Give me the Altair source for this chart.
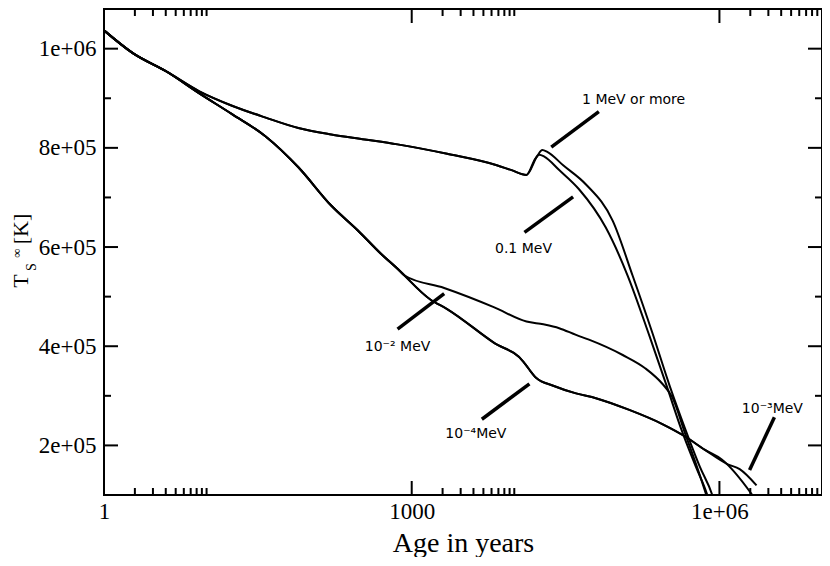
import altair as alt
import pandas as pd

# ---------------- data ----------------
# part shared by every model at early ages
age_start = [1, 1.91, 4.06]
t_start = [1037000, 991000, 954000]

# upper pair (1 MeV or more / 0.1 MeV) before the bump
age_upper = [8.5, 17.7, 37.7, 78.5, 164, 349, 728, 2214, 6745, 9419, 13150]
t_upper = [914000, 885000, 861000, 840000, 827000, 817000, 807000, 788000, 765000, 755000, 745500]

age_1mev = [16800, 18770, 20980, 29960, 50000, 91200, 142300, 222200, 331700, 463300, 646800, 844700, 944000]
t_1mev = [784150, 795750, 791880, 764830, 726180, 652750, 542600, 426660, 316510, 233420, 156120, 102010, 69160]

age_01mev = [16060, 17550, 19620, 27400, 42760, 78000, 127300, 207800, 310100, 423600, 591600, 755900, 844700]
t_01mev = [778350, 786080, 782220, 755170, 716520, 639220, 542600, 420860, 316510, 233420, 156120, 102010, 69160]

# lower trio (1e-2, 1e-3, 1e-4 MeV) before the split
age_lower = [8.5, 17.7, 37.7, 78.5, 164, 298.6, 498, 728]
t_lower = [909760, 868000, 823000, 760900, 683700, 633400, 587000, 556100]

age_1em2 = [850, 2072, 6305, 13150, 19190, 27400, 40000, 53450, 114000, 190100, 277500, 346700, 463300, 605300, 739100, 826500]
t_1em2 = [542600, 517500, 478900, 449900, 444100, 436400, 422800, 413200, 382300, 355200, 324300, 297300, 223800, 156100, 102000, 69200]

age_low_tail = [1518, 2214, 6305, 12290, 13740, 16410, 23980, 40000, 62500, 130300, 277500, 463300, 722800]
t_low_tail = [494290, 474970, 407330, 368690, 355160, 335840, 320380, 304920, 295260, 272070, 243080, 217960, 190910]

age_1em4 = [1055000, 2058000, 2460000]
t_1em4 = [171580, 102010, 78820]

age_1em3 = [1206000, 1575000, 2300000]
t_1em3 = [161910, 152250, 119410]

# annotations
ann_text = ["1 MeV or more", "0.1 MeV", "10\u207b\u00b2 MeV", "10\u207b\u2074MeV", "10\u207b\u00b3MeV"]
ann_x = [145600, 12290, 728, 4223, 3285000]
ann_y = [896230, 596700, 397670, 223800, 274000]
ptr_x1 = [22940, 12570, 728, 4829, 1968000]
ptr_y1 = [801550, 629560, 434390, 252740, 150320]
ptr_x2 = [66760, 37430, 2072, 14050, 3435000]
ptr_y2 = [873040, 701060, 505890, 324240, 256610]

# axis ticks
x_major = [1, 1000, 1000000]
x_minor = [2, 3, 4, 5, 6, 7, 8, 9, 10,
           2000, 3000, 4000, 5000, 6000, 7000, 8000, 9000, 10000,
           2e6, 3e6, 4e6, 5e6, 6e6, 7e6, 8e6, 9e6]
x_labels = ["1", "1000", "1e+06"]
y_major = [200000, 400000, 600000, 800000, 1000000]
y_minor = [300000, 500000, 700000, 900000]
y_labels = ["2e+05", "4e+05", "6e+05", "8e+05", "1e+06"]

# ---------------- build tables ----------------
models = {
    "1 MeV or more": (age_start + age_upper + age_1mev, t_start + t_upper + t_1mev),
    "0.1 MeV": (age_start + age_upper + age_01mev, t_start + t_upper + t_01mev),
    "1e-2 MeV": (age_start + age_lower + age_1em2, t_start + t_lower + t_1em2),
    "1e-4 MeV": (age_start + age_lower + age_low_tail + age_1em4, t_start + t_lower + t_low_tail + t_1em4),
    "1e-3 MeV": (age_start + age_lower + age_low_tail + age_1em3, t_start + t_lower + t_low_tail + t_1em3),
}
rows = []
for name, (ages, temps) in models.items():
    for i, (a, t) in enumerate(zip(ages, temps)):
        rows.append({"model": name, "age": a, "T": t, "i": i})
curves = pd.DataFrame(rows)

ann = pd.DataFrame({"label": ann_text, "x": ann_x, "y": ann_y})
ptr = pd.DataFrame({"x1": ptr_x1, "y1": ptr_y1, "x2": ptr_x2, "y2": ptr_y2})

W, H = 718, 486
MAJ, MIN = 14, 7
xs = alt.Scale(type="log", domain=[1, 1e7])
ys = alt.Scale(domain=[100000, 1080000])
SERIF = "Liberation Serif"

x_expr = " : ".join(f"datum.value == {v} ? '{t}'" for v, t in zip(x_major, x_labels)) + " : ''"
y_expr = " : ".join(f"datum.value == {v} ? '{t}'" for v, t in zip(y_major, y_labels)) + " : ''"

x_axis = alt.Axis(
    values=x_major, labelExpr=x_expr, ticks=False, tickSize=0, domain=False, grid=False,
    labelFont=SERIF, labelFontSize=23, labelColor="black", labelPadding=5,
    labelFlush=False, labelOverlap=False,
    title="Age in years", titleFont=SERIF, titleFontSize=28, titleFontWeight="normal",
    titleColor="black", titleBaseline="alphabetic", titleY=56)
y_axis = alt.Axis(
    values=y_major, labelExpr=y_expr, ticks=False, tickSize=0, domain=False, grid=False,
    labelFont=SERIF, labelFontSize=23, labelColor="black", labelPadding=8,
    labelFlush=False, labelOverlap=False, title=None)

lines = alt.Chart(curves).mark_line(color="black", strokeWidth=2, clip=True,
                                    interpolate="monotone").encode(
    x=alt.X("age:Q", scale=xs, axis=x_axis),
    y=alt.Y("T:Q", scale=ys, axis=y_axis),
    detail="model:N",
    order="i:Q",
)

layers = [lines]


def xtick(vals, length, top):
    df = pd.DataFrame({"age": vals})
    if top:
        y0, y1 = 0, length
    else:
        y0, y1 = H, H - length
    return alt.Chart(df).mark_rule(color="black", strokeWidth=2).encode(
        x=alt.X("age:Q", scale=xs, axis=x_axis), y=alt.value(y0), y2=alt.value(y1))


def ytick(vals, length, right):
    df = pd.DataFrame({"T": vals})
    if right:
        x0, x1 = W, W - length
    else:
        x0, x1 = 0, length
    return alt.Chart(df).mark_rule(color="black", strokeWidth=2).encode(
        y=alt.Y("T:Q", scale=ys, axis=y_axis), x=alt.value(x0), x2=alt.value(x1))


for top in (False, True):
    layers.append(xtick(x_major, MAJ, top))
    layers.append(xtick(x_minor, MIN, top))
for right in (False, True):
    layers.append(ytick(y_major, MAJ, right))
    layers.append(ytick(y_minor, MIN, right))

pointers = alt.Chart(ptr).mark_rule(color="black", strokeWidth=3.5).encode(
    x=alt.X("x1:Q", scale=xs, axis=x_axis), x2="x2:Q",
    y=alt.Y("y1:Q", scale=ys, axis=y_axis), y2="y2:Q")
labels = alt.Chart(ann).mark_text(font="DejaVu Sans", fontSize=14, color="black",
                                  align="center", baseline="middle").encode(
    x=alt.X("x:Q", scale=xs, axis=x_axis), y=alt.Y("y:Q", scale=ys, axis=y_axis), text="label:N")
layers += [pointers, labels]

# y-axis title: T_S^inf [K] built from pieces
ytitle = pd.DataFrame({
    "t": ["T", "S", "\u221e", "[K]"],
    "px": [-83, -72, -87, -83],
    "py": [272, 258, 244, 220],
    "fs": [22, 14, 13, 22],
})
ytitle_layer = alt.Chart(ytitle).mark_text(font=SERIF, color="black", angle=270,
                                           align="center", baseline="middle").encode(
    x=alt.X("px:Q", scale=None), y=alt.Y("py:Q", scale=None),
    text="t:N", size=alt.Size("fs:Q", scale=None, legend=None))
layers.append(ytitle_layer)

chart = alt.layer(*layers).properties(
    width=W, height=H,
    background="white",
    autosize=alt.AutoSizeParams(type="none"),
    padding={"left": 96, "top": 1, "right": 0, "bottom": 62},
).configure_view(stroke="black", strokeWidth=2)

chart.save("out.html", embed_options={"renderer": "svg", "actions": False})
